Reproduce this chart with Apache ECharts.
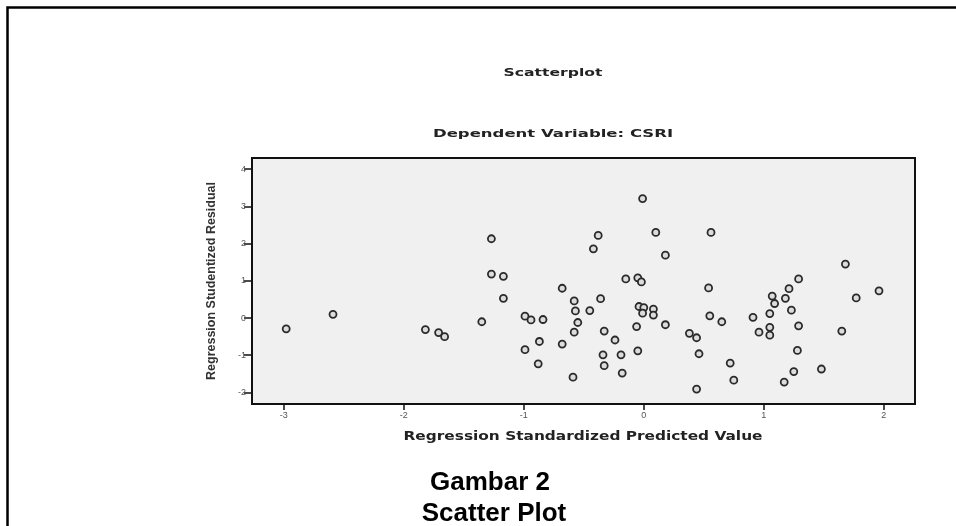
<!DOCTYPE html>
<html>
<head>
<meta charset="utf-8">
<script src="https://cdn.jsdelivr.net/npm/echarts@6/dist/echarts.min.js"></script>
<style>
  html, body { margin: 0; padding: 0; background: #ffffff; }
  #chart { width: 956px; height: 526px; }
</style>
</head>
<body>
<div id="chart"></div>
<script>
// Regression Standardized Predicted Value (x) and Regression Studentized Residual (y)
var xValues = [
  -2.98, -2.59, -1.82, -1.71, -1.66, -1.35, -1.27, -1.27, -1.17, -1.17,
  -0.99, -0.94, -0.84, -0.87, -0.99, -0.88, -0.68, -0.68, -0.58, -0.57,
  -0.55, -0.58, -0.59, -0.45, -0.42, -0.38, -0.36, -0.33, -0.34, -0.33,
  -0.24, -0.19, -0.18, -0.15, -0.05, -0.02, -0.01, -0.04, 0.00, -0.01,
  -0.06, -0.05, 0.08, 0.08, 0.10, 0.18, 0.18, 0.38, 0.44, 0.46,
  0.44, 0.56, 0.54, 0.55, 0.65, 0.72, 0.75, 0.91, 0.96, 1.05,
  1.05, 1.05, 1.07, 1.09, 1.18, 1.21, 1.23, 1.29, 1.29, 1.28,
  1.25, 1.17, 1.48, 1.68, 1.65, 1.77, 1.96
];
var yValues = [
  -0.29, 0.10, -0.31, -0.39, -0.50, -0.10, 2.13, 1.18, 1.12, 0.53,
  0.05, -0.05, -0.04, -0.63, -0.85, -1.23, 0.80, -0.70, 0.46, 0.19,
  -0.12, -0.38, -1.59, 0.20, 1.86, 2.22, 0.52, -0.35, -0.99, -1.28,
  -0.59, -0.99, -1.48, 1.05, 1.08, 0.97, 3.21, 0.31, 0.28, 0.13,
  -0.23, -0.88, 0.24, 0.08, 2.30, 1.69, -0.18, -0.41, -0.53, -0.96,
  -1.91, 2.30, 0.81, 0.06, -0.10, -1.21, -1.67, 0.02, -0.38, 0.12,
  -0.25, -0.46, 0.59, 0.39, 0.53, 0.79, 0.21, 1.05, -0.21, -0.87,
  -1.44, -1.72, -1.37, 1.45, -0.35, 0.54, 0.73
];
var xTicks = [-3, -2, -1, 0, 1, 2];
var yTicks = [-2, -1, 0, 1, 2, 3, 4];

var chartTitle = 'Scatterplot';
var chartSubtitle = 'Dependent Variable: CSRI';
var xName = 'Regression Standardized Predicted Value';
var yName = 'Regression Studentized Residual';
var captionLine1 = 'Gambar 2';
var captionLine2 = 'Scatter Plot';

var points = xValues.map(function (x, i) { return [x, yValues[i]]; });

var chart = echarts.init(document.getElementById('chart'), null, { renderer: 'canvas' });
var titleFont = '"DejaVu Sans", "Liberation Sans", sans-serif';
var capFont = '"Liberation Sans", Arial, sans-serif';

function stretchedText(str, x, y, size, sx, color) {
  return {
    type: 'text', silent: true, x: x, y: y, scaleX: sx, scaleY: 1,
    style: { text: str, x: 0, y: 0, align: 'center', verticalAlign: 'middle',
      font: 'bold ' + size + 'px ' + titleFont, fill: color }
  };
}

chart.setOption({
  animation: false,
  backgroundColor: '#ffffff',
  grid: {
    left: 252, top: 158, right: 41, bottom: 122,
    show: true, backgroundColor: '#f0f0f0', borderColor: '#111', borderWidth: 2
  },
  xAxis: {
    type: 'value', min: -3.265, max: 2.26,
    name: '', nameLocation: 'middle',
    axisLine: { show: true, onZero: false, lineStyle: { color: '#111', width: 2 } },
    axisTick: { show: true, length: 6, inside: false, customValues: xTicks, lineStyle: { color: '#111', width: 1.5 } },
    axisLabel: { customValues: xTicks, fontSize: 9, color: '#555', margin: 7, fontFamily: capFont },
    splitLine: { show: false }
  },
  yAxis: {
    type: 'value', min: -2.31, max: 4.30,
    name: yName, nameLocation: 'middle', nameGap: 34, nameRotate: 90,
    nameTextStyle: { fontFamily: capFont, fontWeight: 'bold', fontSize: 12.5, color: '#333' },
    axisLine: { show: true, onZero: false, lineStyle: { color: '#111', width: 2 } },
    axisTick: { show: true, length: 8, inside: false, customValues: yTicks, lineStyle: { color: '#111', width: 1.5 } },
    axisLabel: { customValues: yTicks, fontSize: 9, color: '#555', margin: 6, fontFamily: capFont },
    splitLine: { show: false }
  },
  series: [{
    type: 'scatter',
    name: yName,
    data: points,
    symbol: 'circle',
    symbolSize: 7,
    itemStyle: { color: '#dcdcdc', borderColor: '#2a2a2a', borderWidth: 1.8, opacity: 1 }
  }],
  graphic: [
    { type: 'polyline', silent: true, shape: { points: [[7.5, 526], [7.5, 7.5], [956, 7.5]] },
      style: { stroke: '#000', lineWidth: 2.5, fill: null } },
    stretchedText(chartTitle, 553, 73, 11, 1.42, '#222'),
    stretchedText(chartSubtitle, 553, 134, 11, 1.5, '#222'),
    stretchedText(xName, 583, 437, 12, 1.28, '#222'),
    { type: 'text', silent: true, x: 490, y: 483,
      style: { text: captionLine1, x: 0, y: 0, align: 'center', verticalAlign: 'middle',
        font: 'bold 26px ' + capFont, fill: '#000' } },
    { type: 'text', silent: true, x: 494, y: 514,
      style: { text: captionLine2, x: 0, y: 0, align: 'center', verticalAlign: 'middle',
        font: 'bold 26px ' + capFont, fill: '#000' } }
  ]
});
</script>
</body>
</html>
